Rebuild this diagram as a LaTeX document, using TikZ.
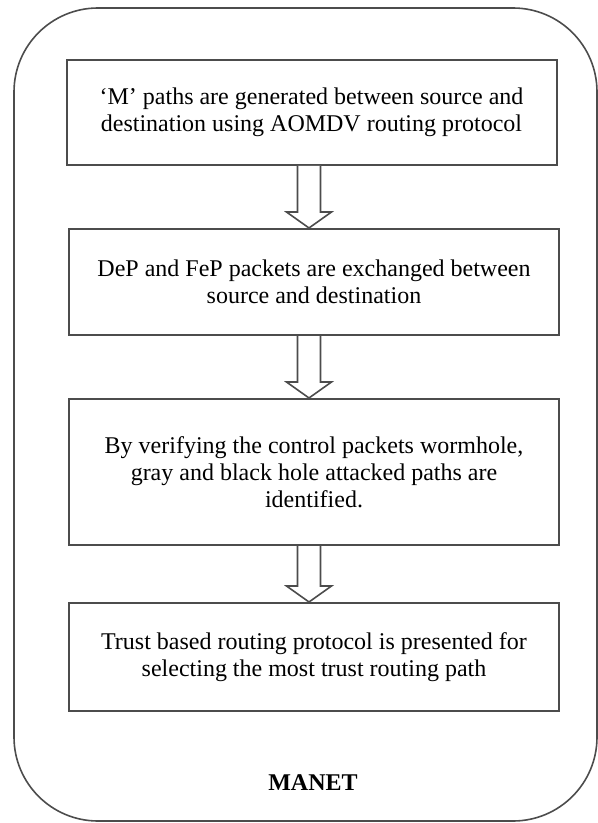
\documentclass[tikz,border=0pt]{standalone}
\usepackage{fontspec}
\setmainfont{Liberation Serif}
\usetikzlibrary{calc}

\begin{document}
\begin{tikzpicture}[x=0.5pt,y=-0.5pt,
	stage/.style={draw=black!70,line width=1pt,minimum width=245pt,align=center,inner sep=0pt,
		font=\fontsize{12}{13.5}\selectfont},
	hollow/.style={draw=black!70,line width=0.8pt,fill=white,line join=miter}]

	% Fix the page size to the picture
	\useasboundingbox (0,0) rectangle (598,823);

	% Draw the outer MANET frame
	\draw[black!70,line width=0.8pt,rounded corners=42pt] (14,8) rectangle (597,821);

	% Draw the four stages
	\node[stage,minimum height=52.5pt] (gen) at (311.5,112.5)
		{`M' paths are generated between source and\\destination using AOMDV routing protocol};
	\node[stage,minimum height=53pt] (exch) at (314,282)
		{DeP and FeP packets are exchanged between\\source and destination};
	\node[stage,minimum height=73pt] (verify) at (314,472)
		{By verifying the control packets wormhole,\\gray and black hole attacked paths are\\identified.};
	\node[stage,minimum height=54pt] (trust) at (314,657)
		{Trust based routing protocol is presented for\\selecting the most trust routing path};

	% Draw the hollow arrows between the stages
	\foreach \a/\b in {gen/exch,exch/verify,verify/trust}
		\draw[hollow] ($(\a.south -| \b.north)+(-16.5,0)$) -- ($(\b.north)+(-16.5,-16)$)
			-- ($(\b.north)+(-27.5,-16)$) -- ($(\b.north)+(-5,0)$)
			-- ($(\b.north)+(17.5,-16)$) -- ($(\b.north)+(6.5,-16)$)
			-- ($(\a.south -| \b.north)+(6.5,0)$);

	% Name of the network
	\node[font=\fontsize{12}{14}\selectfont\bfseries] (manet) at (313,783) {MANET};

\end{tikzpicture}
\end{document}
